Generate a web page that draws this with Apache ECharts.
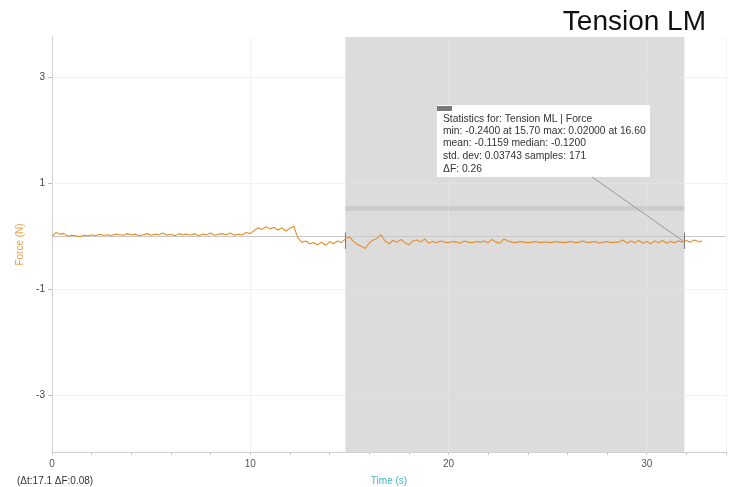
<!DOCTYPE html>
<html>
<head>
<meta charset="utf-8">
<script src="https://cdn.jsdelivr.net/npm/echarts@6/dist/echarts.min.js"></script>
<style>html,body{margin:0;padding:0;background:#fff}#c{width:733px;height:487px}</style>
</head>
<body>
<div id="c"></div>
<script>
// ---- data ----
const chartTitle = 'Tension LM';
const sampleStep = 0.2; // seconds between samples
const startTime = 0;
const force = [
  -0.01, 0.06, 0.03, 0.04, -0.01, 0.01, 0.00, -0.02, 0.01, 0.00, 0.02,
  0.00, 0.03, 0.01, 0.02, 0.00, 0.03, 0.02, 0.01, 0.04, 0.02,
  0.03, 0.00, 0.02, 0.04, 0.01, 0.03, 0.02, 0.05, 0.01, 0.03,
  0.00, 0.04, 0.02, 0.03, 0.01, 0.04, 0.00, 0.03, 0.02, 0.05,
  0.01, 0.03, 0.04, 0.02, 0.05, 0.01, 0.03, 0.02, 0.06, 0.04,
  0.10, 0.15, 0.12, 0.17, 0.13, 0.16, 0.11, 0.15, 0.09, 0.14, 0.18,
  -0.04, -0.12, -0.10, -0.15, -0.13, -0.17, -0.12, -0.18, -0.11, -0.15, -0.10, -0.13, -0.06,
  -0.02, -0.10, -0.16, -0.20, -0.24, -0.14, -0.08, -0.05, 0.02, -0.10, -0.15, -0.09, -0.12, -0.07, -0.13,
  -0.17, -0.10, -0.08, -0.12, -0.06, -0.14, -0.11, -0.13, -0.10, -0.12,
  -0.13, -0.11, -0.12, -0.14, -0.10, -0.12, -0.13, -0.11, -0.12, -0.10,
  -0.13, -0.07, -0.12, -0.14, -0.06, -0.10, -0.12, -0.13, -0.11, -0.12,
  -0.13, -0.12, -0.11, -0.13, -0.12, -0.12, -0.13, -0.11, -0.12, -0.13,
  -0.12, -0.11, -0.13, -0.12, -0.10, -0.13, -0.12, -0.11, -0.14, -0.12,
  -0.11, -0.13, -0.12, -0.12, -0.08, -0.14, -0.10, -0.13, -0.09, -0.14,
  -0.11, -0.15, -0.10, -0.13, -0.09, -0.14, -0.11, -0.13, -0.10, -0.12,
  -0.09, -0.12, -0.08, -0.11, -0.10
];
const yTickValues = [-3, -1, 1, 3];
const xGridValues = [10, 20, 30, 34];
const selection = [14.8, 31.9];
const selectionMean = -0.1159;
const statsBand = [0.47, 0.56];
const statsLines = [
  'Statistics for: Tension ML | Force',
  'min: -0.2400 at 15.70 max: 0.02000 at 16.60',
  'mean: -0.1159 median: -0.1200',
  'std. dev: 0.03743 samples: 171',
  '\u0394F: 0.26'
];
const deltaText = '(\u0394t:17.1 \u0394F:0.08)';
const xName = 'Time (s)';
const yName = 'Force (N)';

// ---- chart ----
const points = force.map((v, i) => [+(startTime + i * sampleStep).toFixed(2), v]);
const FONT = '"Liberation Sans", Arial, sans-serif';
const chart = echarts.init(document.getElementById('c'));

const statGraphics = [
  { type: 'rect', shape: { x: 437, y: 105, width: 213, height: 72 }, style: { fill: '#ffffff' }, z: 100 },
  { type: 'rect', shape: { x: 437, y: 106, width: 15, height: 5 }, style: { fill: '#7a7a7a' }, z: 101 }
].concat(statsLines.map((s, i) => ({
  type: 'text', x: 443, y: 114 + i * 12.3 + (i === 4 ? 1 : 0), z: 101,
  style: { text: s, fill: '#333', font: '10.3px ' + FONT }
})));
statGraphics.push({
  type: 'text', x: 17, y: 476, z: 101,
  style: { text: deltaText, fill: '#333', font: '10px ' + FONT }
});

chart.setOption({
  animation: false,
  backgroundColor: '#ffffff',
  title: {
    text: chartTitle, right: 22, top: 3,
    textStyle: { fontSize: 28, fontWeight: 'normal', color: '#111', fontFamily: FONT }
  },
  grid: { left: 52, right: 7, top: 37, bottom: 35, containLabel: false, outerBoundsMode: 'none' },
  xAxis: {
    type: 'value', min: 0, max: 34, interval: 2,
    name: xName, nameLocation: 'middle', nameGap: 24,
    nameTextStyle: { color: '#3fb3c2', fontSize: 10, fontFamily: FONT },
    axisLine: { show: true, onZero: false, lineStyle: { color: '#d0d0d0' } },
    axisTick: { show: true, length: 3, lineStyle: { color: '#c8c8c8' } },
    axisLabel: {
      color: '#555', fontSize: 10, fontFamily: FONT, margin: 7,
      formatter: v => (v % 10 === 0 ? String(v) : '')
    },
    splitLine: { show: false }
  },
  yAxis: {
    type: 'value', min: -4.08, max: 3.75,
    name: yName, nameLocation: 'middle', nameGap: 26,
    nameTextStyle: { color: '#e8a050', fontSize: 10, fontFamily: FONT },
    axisLine: { show: true, onZero: false, lineStyle: { color: '#d0d0d0' } },
    axisTick: { show: true, length: 4, customValues: yTickValues, lineStyle: { color: '#bbb' } },
    axisLabel: { color: '#444', fontSize: 10, fontFamily: FONT, margin: 7, customValues: yTickValues },
    splitLine: { show: false }
  },
  series: [
    {
      type: 'line', data: [], z: 0, silent: true,
      markLine: {
        silent: true, symbol: 'none', label: { show: false },
        lineStyle: { color: 'rgba(230,230,230,0.5)', type: 'solid', width: 1 },
        data: xGridValues.map(v => ({ xAxis: v }))
          .concat(yTickValues.map(v => ({ yAxis: v })))
      }
    },
    {
      type: 'line', data: [], z: 1, silent: true,
      markArea: {
        silent: true,
        data: [
          [{ xAxis: selection[0], itemStyle: { color: '#dcdcdc' } }, { xAxis: selection[1] }],
          [{ coord: [selection[0], statsBand[0]], itemStyle: { color: '#cbcbcb' } }, { coord: [selection[1], statsBand[1]] }]
        ]
      },
      markLine: {
        silent: true, symbol: 'none', label: { show: false },
        lineStyle: { color: '#c8c8c8', type: 'solid', width: 1 },
        data: [{ yAxis: 0 }]
      }
    },
    {
      type: 'line', data: points, showSymbol: false, z: 5,
      lineStyle: { color: '#e48e2c', width: 1.1 },
      markLine: {
        silent: true, symbol: 'none', label: { show: false },
        lineStyle: { color: '#777', type: 'solid', width: 1 },
        data: [
          [{ coord: [selection[0], 0.06] }, { coord: [selection[0], -0.25] }],
          [{ coord: [selection[1], 0.06] }, { coord: [selection[1], -0.25] }],
          [{ x: 592, y: 177, lineStyle: { color: '#999' } }, { coord: [selection[1], selectionMean] }]
        ]
      }
    }
  ],
  graphic: statGraphics
});
</script>
</body>
</html>
